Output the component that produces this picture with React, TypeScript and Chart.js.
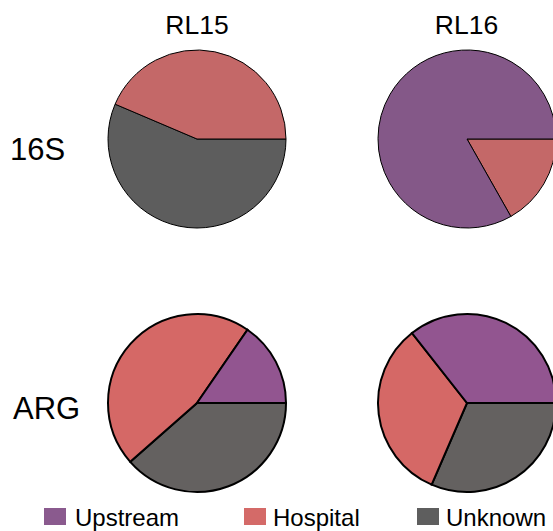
import React, { useEffect, useRef } from "react";
import { Chart, registerables } from "chart.js";

Chart.register(...registerables);

// ---- data ----
const sources = ["Upstream", "Hospital", "Unknown"];
const sites = ["RL15", "RL16"];
const markers = ["16S", "ARG"];
// percent shares, order: Upstream, Hospital, Unknown
const rl15_16S = [0, 43.6, 56.4];
const rl16_16S = [83.2, 16.8, 0];
const rl15_ARG = [15.4, 46.1, 38.5];
const rl16_ARG = [35.6, 32.9, 31.5];

const colors16S = ["#845888", "#c46868", "#5d5d5d"];
const colorsARG = ["#925590", "#d56866", "#646160"];
const legendColors = ["#8a5a8e", "#d46a68", "#5e5e5e"];

const FONT = '"Liberation Sans", Arial, Helvetica, sans-serif';

type PieProps = {
  values: number[];
  colors: string[];
  border: number;
  cx: number;
  cy: number;
};

const SIZE = 200;

function Pie({ values, colors, border, cx, cy }: PieProps) {
  const ref = useRef<HTMLCanvasElement | null>(null);
  useEffect(() => {
    if (!ref.current) return;
    // matplotlib draws counter-clockwise from 3 o'clock; Chart.js clockwise,
    // so reverse the order and start at 90deg.
    const data = [...values].reverse();
    const bg = [...colors].reverse();
    const labels = [...sources].reverse();
    const chart = new Chart(ref.current, {
      type: "pie",
      data: {
        labels,
        datasets: [
          {
            data,
            backgroundColor: bg,
            borderColor: "#000000",
            borderWidth: border,
            borderJoinStyle: "miter",
          },
        ],
      },
      options: {
        animation: false,
        responsive: false,
        rotation: 90,
        radius: 89,
        layout: { padding: 0 },
        plugins: {
          legend: { display: false },
          tooltip: { enabled: false },
          title: { display: false },
        },
        events: [],
      },
    });
    return () => chart.destroy();
  }, [values, colors, border]);
  return (
    <canvas
      ref={ref}
      width={SIZE}
      height={SIZE}
      style={{
        position: "absolute",
        left: cx - SIZE / 2,
        top: cy - SIZE / 2,
        width: SIZE,
        height: SIZE,
      }}
    />
  );
}

const colX = [197, 466.5];
const rowY = [139, 402.5];

export default function App() {
  const grid = [
    [rl15_16S, rl16_16S],
    [rl15_ARG, rl16_ARG],
  ];
  const rowColors = [colors16S, colorsARG];
  const rowBorder = [1, 2];
  const rowLabelTop = [133.5, 392.5];
  const rowLabelLeft = [10, 13];
  const legendSquareX = [44, 244, 417];
  const legendTextX = [75, 273, 446];

  return (
    <div
      style={{
        position: "absolute",
        left: 0,
        top: 0,
        width: 553,
        height: 531,
        overflow: "hidden",
        background: "#ffffff",
        fontFamily: FONT,
        color: "#000",
      }}
    >
      {sites.map((s, i) => (
        <div
          key={s}
          style={{
            position: "absolute",
            left: colX[i] - 60,
            width: 120,
            top: 11.5,
            textAlign: "center",
            fontSize: 26.5,
            lineHeight: 1,
            whiteSpace: "nowrap",
          }}
        >
          {s}
        </div>
      ))}
      {markers.map((m, r) => (
        <div
          key={m}
          style={{
            position: "absolute",
            left: rowLabelLeft[r],
            top: rowLabelTop[r],
            fontSize: 31,
            lineHeight: 1,
            whiteSpace: "nowrap",
          }}
        >
          {m}
        </div>
      ))}
      {grid.map((row, r) =>
        row.map((vals, c) => (
          <Pie
            key={`${r}-${c}`}
            values={vals}
            colors={rowColors[r]}
            border={rowBorder[r]}
            cx={colX[c]}
            cy={rowY[r]}
          />
        ))
      )}
      {sources.map((s, i) => (
        <React.Fragment key={s}>
          <div
            style={{
              position: "absolute",
              left: legendSquareX[i],
              top: 508,
              width: 22,
              height: 17,
              background: legendColors[i],
            }}
          />
          <div
            style={{
              position: "absolute",
              left: legendTextX[i],
              top: 505.5,
              fontSize: 24,
              lineHeight: 1,
              whiteSpace: "nowrap",
            }}
          >
            {s}
          </div>
        </React.Fragment>
      ))}
    </div>
  );
}
